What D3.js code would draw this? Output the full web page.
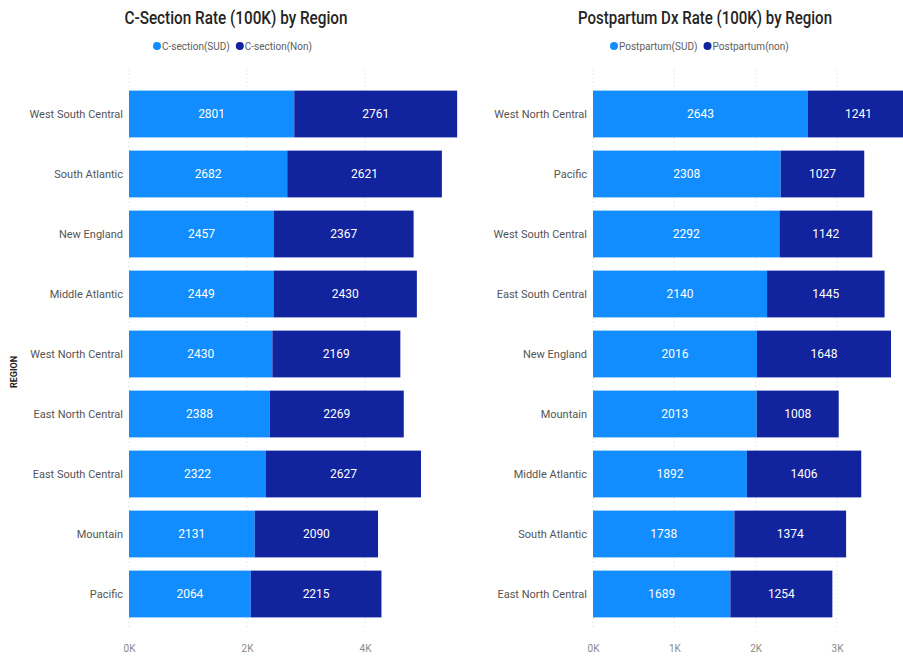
<!DOCTYPE html>
<html><head><meta charset="utf-8">
<script src="https://cdn.jsdelivr.net/npm/d3@7"></script>
<style>body{margin:0;background:#fff}svg{display:block}text{font-family:"Roboto","Noto Sans",sans-serif}</style>
</head><body><svg id="c" width="903" height="658"></svg>
<script>
const leftRegions = ["West South Central","South Atlantic","New England","Middle Atlantic","West North Central","East North Central","East South Central","Mountain","Pacific"];
const leftSUD = [2801,2682,2457,2449,2430,2388,2322,2131,2064];
const leftNon = [2761,2621,2367,2430,2169,2269,2627,2090,2215];
const rightRegions = ["West North Central","Pacific","West South Central","East South Central","New England","Mountain","Middle Atlantic","South Atlantic","East North Central"];
const rightSUD = [2643,2308,2292,2140,2016,2013,1892,1738,1689];
const rightNon = [1241,1027,1142,1445,1648,1008,1406,1374,1254];
const leftTicks = [0,2000,4000];
const rightTicks = [0,1000,2000,3000];

const C1 = "#118DFF", C2 = "#12239E";
const svg = d3.select("#c");

function chart(o){
  const g = svg.append("g");
  const x = d3.scaleLinear().domain([0,o.max]).range([o.x0,o.x1]);
  const y = d3.scaleBand().domain(o.cats).range([84,624]).paddingInner(0.22).paddingOuter(0.11);
  g.selectAll("line.grid").data(o.ticks).join("line")
    .attr("x1",d=>x(d)).attr("x2",d=>x(d)).attr("y1",70).attr("y2",630)
    .attr("stroke","#d8d8d8").attr("stroke-dasharray","1,3");
  const ax = g.append("g").attr("transform","translate(0,640)")
    .call(d3.axisBottom(x).tickValues(o.ticks).tickFormat(d=>(d/1000)+"K").tickSize(0));
  ax.select(".domain").remove();
  ax.selectAll("text").attr("fill","#8a8a8a").attr("font-size",10).attr("dy","0.9em");
  const ay = g.append("g").attr("transform",`translate(${o.x0-4},0)`)
    .call(d3.axisLeft(y).tickSize(0).tickPadding(2));
  ay.select(".domain").remove();
  ay.selectAll("text").attr("fill","#555").attr("font-size",11);
  const rows = o.cats.map((c,i)=>({c,a:o.a[i],b:o.b[i]}));
  g.selectAll("rect.a").data(rows).join("rect")
    .attr("x",x(0)).attr("y",d=>y(d.c)).attr("height",y.bandwidth())
    .attr("width",d=>x(d.a)-x(0)).attr("fill",C1);
  g.selectAll("rect.b").data(rows).join("rect")
    .attr("x",d=>x(d.a)).attr("y",d=>y(d.c)).attr("height",y.bandwidth())
    .attr("width",d=>x(d.a+d.b)-x(d.a)).attr("fill",C2);
  g.selectAll("text.la").data(rows).join("text")
    .attr("x",d=>(x(0)+x(d.a))/2).attr("y",d=>y(d.c)+y.bandwidth()/2).attr("dy","0.35em")
    .attr("text-anchor","middle").attr("fill","#fff").attr("font-size",12).text(d=>d.a);
  g.selectAll("text.lb").data(rows).join("text")
    .attr("x",d=>(x(d.a)+x(d.a+d.b))/2).attr("y",d=>y(d.c)+y.bandwidth()/2).attr("dy","0.35em")
    .attr("text-anchor","middle").attr("fill","#fff").attr("font-size",12).text(d=>d.b);
  g.append("text").attr("x",o.tx).attr("y",24).attr("text-anchor","middle")
    .attr("font-size",18).attr("font-weight",500).attr("fill","#252423")
    .attr("textLength",o.tw).attr("lengthAdjust","spacingAndGlyphs").text(o.title);
  let lx = o.lx;
  o.leg.forEach((t,i)=>{
    g.append("circle").attr("cx",lx+4).attr("cy",46).attr("r",4).attr("fill",i?C2:C1);
    const tt = g.append("text").attr("x",lx+9).attr("y",46).attr("dy","0.35em")
      .attr("font-size",10).attr("fill","#605e5c").text(t);
    lx += 9 + tt.node().getComputedTextLength() + 6;
  });
}

chart({cats:leftRegions,a:leftSUD,b:leftNon,max:4000,x0:129,x1:365,ticks:leftTicks,
  title:"C-Section Rate (100K) by Region",tx:236,tw:223,leg:["C-section(SUD)","C-section(Non)"],lx:153});
chart({cats:rightRegions,a:rightSUD,b:rightNon,max:3000,x0:593,x1:837,ticks:rightTicks,
  title:"Postpartum Dx Rate (100K) by Region",tx:705,tw:254,leg:["Postpartum(SUD)","Postpartum(non)"],lx:610});

svg.append("text").attr("transform","translate(17,372) rotate(-90)").attr("text-anchor","middle")
  .attr("font-size",9).attr("font-weight","bold").attr("fill","#252423").text("REGION");
</script></body></html>
